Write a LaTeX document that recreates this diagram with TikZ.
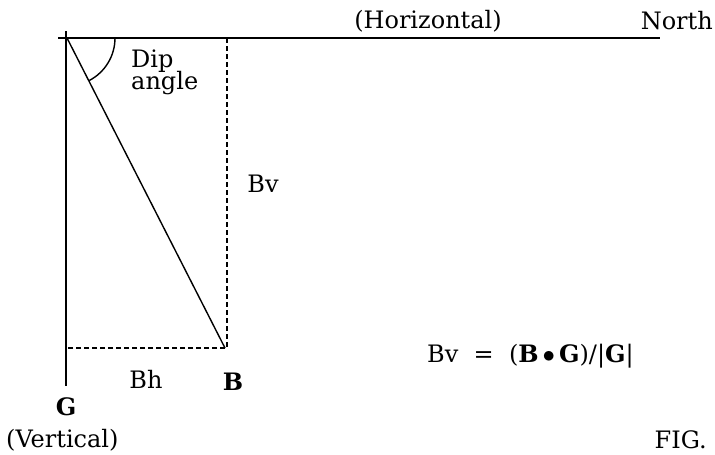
\documentclass[tikz,border=0pt]{standalone}
\usepackage{fontspec}
\setmainfont{DejaVu Serif}
\begin{document}
\begin{tikzpicture}[x=1pt,y=-1pt,
  lbl/.style={font=\fontsize{24}{26}\selectfont, inner sep=0pt},
  solidline/.style={line width=1.4pt},
  dashline/.style={line width=1.2pt, dash pattern=on 5pt off 3pt}]
\useasboundingbox (0,0) rectangle (715,455);
\coordinate (O) at (67,38);
\coordinate (Hleft) at (58,38);
\coordinate (Hright) at (660,38);
\coordinate (Vtop) at (66,31);
\coordinate (Vbot) at (66,386);
\coordinate (B) at (225,348);
\coordinate (Btop) at (227,38);
\coordinate (Bleft) at (66,348);
\draw[solidline] (Hleft) -- (Hright);
\draw[solidline] (Vtop) -- (Vbot);
\draw[solidline] (O) -- (B);
\draw[dashline] (Btop) -- (227,348) -- (Bleft);
\draw[solidline] (115,38) arc[start angle=0, end angle=62.5, radius=48];
\node[lbl, anchor=west] (dip) at (131,61) {Dip};
\node[lbl, anchor=west] (ang) at (131,83) {angle};
\node[lbl] (hor) at (428,21) {(Horizontal)};
\node[lbl, anchor=east] (north) at (713,21) {North};
\node[lbl] (bv) at (263,184) {Bv};
\node[lbl] (bh) at (146,379) {Bh};
\node[lbl] (bl) at (233,382) {\bfseries B};
\node[lbl] (gl) at (66,407) {\bfseries G};
\node[lbl, anchor=west] (vert) at (6,440) {(Vertical)};
\node[lbl, anchor=east] (fig) at (707,440) {FIG.};
\node[lbl, anchor=west] (eq) at (427,356) {Bv\ \ =\ \ (\textbf{B}\,$\bullet$\,\textbf{G})/|\textbf{G}|};
\end{tikzpicture}
\end{document}
